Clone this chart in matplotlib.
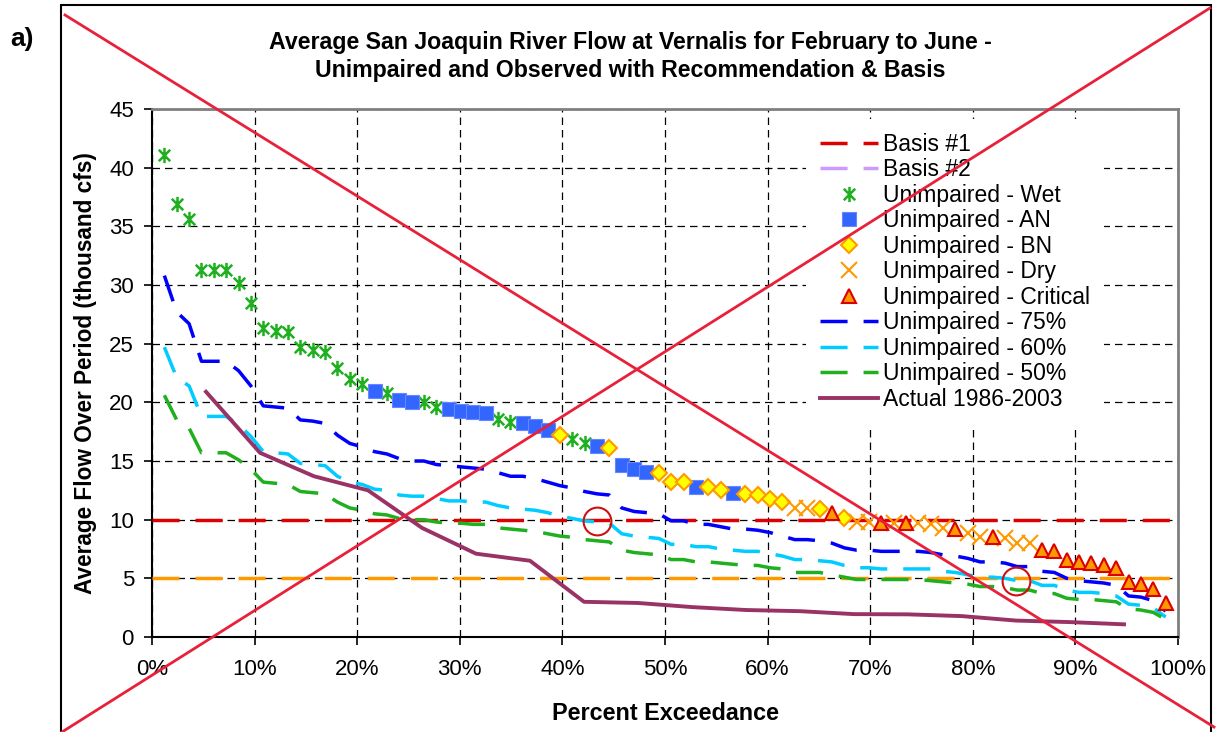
import matplotlib
matplotlib.use("Agg")
import matplotlib.pyplot as plt
import numpy as np
from matplotlib.lines import Line2D
from matplotlib.patches import Rectangle
from matplotlib.path import Path
from matplotlib.ticker import PercentFormatter

plt.rcParams["font.family"] = ["Liberation Sans", "DejaVu Sans"]

# unimpaired Feb-Jun flow (thousand cfs), ranked 1922-2003, and year type
unimpaired_flow = [
    41.1, 36.9, 35.6, 31.3, 31.3, 31.3, 30.2, 28.5, 26.3, 26.1,
    26.0, 24.7, 24.5, 24.3, 22.9, 22.0, 21.6, 21.0, 20.8, 20.2,
    20.0, 20.0, 19.6, 19.4, 19.3, 19.2, 19.1, 18.6, 18.3, 18.2,
    18.0, 17.6, 17.2, 16.9, 16.5, 16.3, 16.1, 14.7, 14.3, 14.1,
    14.0, 13.2, 13.2, 12.8, 12.8, 12.5, 12.3, 12.2, 12.1, 11.8,
    11.5, 11.0, 11.0, 10.9, 10.6, 10.1, 9.8, 9.8, 9.7, 9.7,
    9.7, 9.7, 9.6, 9.3, 9.2, 8.9, 8.5, 8.5, 8.4, 8.0,
    8.0, 7.4, 7.3, 6.6, 6.4, 6.3, 6.1, 5.9, 4.7, 4.5,
    4.1, 2.9,
]
year_type = (
    ["W"] * 17
    + ["AN", "W", "AN", "AN", "W", "W", "AN", "AN", "AN", "AN",
       "W", "W", "AN", "AN", "AN", "BN", "W", "W", "AN", "BN",
       "AN", "AN", "AN", "BN", "BN", "BN", "AN", "BN", "BN", "AN",
       "BN", "BN", "BN", "BN", "D", "D", "BN", "C", "BN", "D",
       "D", "C", "D", "C", "D", "D", "D", "C", "D", "D",
       "C", "D", "D", "D"]
    + ["C"] * 11
)

unimp_75 = [
    30.8, 27.7, 26.7, 23.5, 23.5, 23.5, 22.7, 21.4, 19.7, 19.6,
    19.5, 18.5, 18.4, 18.2, 17.2, 16.5, 16.2, 15.8, 15.6, 15.2,
    15.0, 15.0, 14.7, 14.6, 14.5, 14.4, 14.3, 14.0, 13.7, 13.7,
    13.5, 13.2, 12.9, 12.7, 12.4, 12.2, 12.1, 11.0, 10.7, 10.6,
    10.5, 9.9, 9.9, 9.6, 9.6, 9.4, 9.2, 9.2, 9.1, 8.9,
    8.6, 8.3, 8.3, 8.2, 8.0, 7.6, 7.4, 7.4, 7.3, 7.3,
    7.3, 7.3, 7.2, 7.0, 6.9, 6.7, 6.4, 6.4, 6.3, 6.0,
    6.0, 5.6, 5.5, 5.0, 4.8, 4.7, 4.6, 4.4, 3.5, 3.4,
    3.1, 2.2,
]
unimp_60 = [
    24.7, 22.1, 21.4, 18.8, 18.8, 18.8, 18.1, 17.1, 15.8, 15.7,
    15.6, 14.8, 14.7, 14.6, 13.7, 13.2, 13.0, 12.6, 12.5, 12.1,
    12.0, 12.0, 11.8, 11.6, 11.6, 11.5, 11.5, 11.2, 11.0, 10.9,
    10.8, 10.6, 10.3, 10.1, 9.9, 9.8, 9.7, 8.8, 8.6, 8.5,
    8.4, 7.9, 7.9, 7.7, 7.7, 7.5, 7.4, 7.3, 7.3, 7.1,
    6.9, 6.6, 6.6, 6.5, 6.4, 6.1, 5.9, 5.9, 5.8, 5.8,
    5.8, 5.8, 5.8, 5.6, 5.5, 5.3, 5.1, 5.1, 5.0, 4.8,
    4.8, 4.4, 4.4, 4.0, 3.8, 3.8, 3.7, 3.5, 2.8, 2.7,
    2.5, 1.7,
]
unimp_50 = [
    20.6, 18.5, 17.8, 15.7, 15.7, 15.7, 15.1, 14.3, 13.2, 13.1,
    13.0, 12.4, 12.3, 12.2, 11.5, 11.0, 10.8, 10.5, 10.4, 10.1,
    10.0, 10.0, 9.8, 9.7, 9.7, 9.6, 9.6, 9.3, 9.2, 9.1,
    9.0, 8.8, 8.6, 8.5, 8.3, 8.2, 8.1, 7.4, 7.2, 7.1,
    7.0, 6.6, 6.6, 6.4, 6.4, 6.3, 6.2, 6.1, 6.1, 5.9,
    5.8, 5.5, 5.5, 5.5, 5.3, 5.1, 4.9, 4.9, 4.9, 4.9,
    4.9, 4.9, 4.8, 4.7, 4.6, 4.5, 4.3, 4.3, 4.2, 4.0,
    4.0, 3.7, 3.7, 3.3, 3.2, 3.2, 3.1, 3.0, 2.4, 2.3,
    2.1, 1.5,
]

# observed flow 1986-2003, ranked
actual_flow = [20.9, 15.7, 13.7, 12.5, 9.3, 7.1, 6.5, 3.0, 2.9,
               2.55, 2.3, 2.2, 1.95, 1.93, 1.78, 1.4, 1.27, 1.08]

basis1 = 10
basis2 = 5

# highlighted points (exceedance, flow)
circle_x = [0.434, 0.842]
circle_y = [9.9, 4.8]

n = len(unimpaired_flow)
x_unimp = np.arange(1, n + 1) / (n + 1)
x_actual = np.arange(1, len(actual_flow) + 1) / (len(actual_flow) + 1)
flow = np.array(unimpaired_flow)
ytype = np.array(year_type)

star = Path([(0, -1), (0, 1), (-0.75, -0.75), (0.75, 0.75), (-0.75, 0.75), (0.75, -0.75)],
            [Path.MOVETO, Path.LINETO, Path.MOVETO, Path.LINETO, Path.MOVETO, Path.LINETO])

fig = plt.figure(figsize=(12.2, 7.32), dpi=100)
ax = fig.add_axes([152 / 1220, 1 - 637 / 732, 1026 / 1220, 528 / 732])

dash = (0, (7.8, 4.6))
ax.plot([0, 1], [basis1, basis1], color="#DD0000", lw=2.5, linestyle=dash, dash_capstyle="butt", zorder=3)
ax.plot([0, 1], [basis2, basis2], color="#FF9900", lw=2.5, linestyle=dash, dash_capstyle="butt", zorder=3)

ax.plot(x_unimp, unimp_75, color="#0000FF", lw=2.5, linestyle=dash, zorder=3)
ax.plot(x_unimp, unimp_60, color="#00CCFF", lw=2.5, linestyle=dash, zorder=3)
ax.plot(x_unimp, unimp_50, color="#1FAF1F", lw=2.5, linestyle=dash, zorder=3)
ax.plot(x_actual, actual_flow, color="#993366", lw=2.8, zorder=3)

m = ytype == "W"
ax.plot(x_unimp[m], flow[m], ls="none", marker=star, ms=11, mew=1.8, mec="#1FAF1F", mfc="none", zorder=4)
m = ytype == "AN"
ax.plot(x_unimp[m], flow[m], ls="none", marker="s", ms=10, mew=0.8, mec="#6688FF", mfc="#3366FF", zorder=4)
m = ytype == "BN"
ax.plot(x_unimp[m], flow[m], ls="none", marker="D", ms=8, mew=1.5, mec="#FF9900", mfc="#FFFF00", zorder=4)
m = ytype == "D"
ax.plot(x_unimp[m], flow[m], ls="none", marker="x", ms=11, mew=1.5, mec="#FF9900", zorder=4)
m = ytype == "C"
ax.plot(x_unimp[m], flow[m], ls="none", marker="^", ms=10, mew=1.5, mec="#DD0000", mfc="#FF9900", zorder=4)

ax.plot(circle_x, circle_y, ls="none", marker="o", ms=20, mew=1.5, mec="#D01010", mfc="none", zorder=5)

ax.set_xlim(0, 1)
ax.set_ylim(0, 45)
ax.set_xticks(np.arange(0, 1.01, 0.1))
ax.set_yticks(np.arange(0, 46, 5))
ax.xaxis.set_major_formatter(PercentFormatter(1.0, decimals=0))
ax.tick_params(labelsize=16, length=6, width=1.2, color="black")
ax.tick_params(axis="x", pad=10)
ax.tick_params(axis="y", pad=7)
ax.grid(True, color="black", lw=0.9, linestyle=(0, (6, 4)))
ax.set_axisbelow(True)
for s in ["left", "bottom"]:
    ax.spines[s].set_color("black")
    ax.spines[s].set_linewidth(1.5)
for s in ["top", "right"]:
    ax.spines[s].set_color("#808080")
    ax.spines[s].set_linewidth(2)

ax.set_xlabel("Percent Exceedance", fontsize=16.8, fontweight="bold", labelpad=16)
ax.set_ylabel("Average Flow Over Period (thousand cfs)", fontsize=16.3, fontweight="bold", labelpad=9)

fig.text(630 / 1220, 1 - 43 / 732, "Average San Joaquin River Flow at Vernalis for February to June -",
         ha="center", va="center", fontsize=16.7, fontweight="bold")
fig.text(630 / 1220, 1 - 71 / 732, "Unimpaired and Observed with Recommendation & Basis",
         ha="center", va="center", fontsize=16.7, fontweight="bold")
fig.text(22 / 1220, 1 - 39 / 732, "a)", ha="center", va="center", fontsize=19, fontweight="bold")

handles = [
    Line2D([], [], color="#DD0000", lw=2.5, linestyle=dash),
    Line2D([], [], color="#CC99FF", lw=2.5, linestyle=dash),
    Line2D([], [], ls="none", marker=star, ms=11, mew=1.8, mec="#1FAF1F", mfc="none"),
    Line2D([], [], ls="none", marker="s", ms=10, mew=0.8, mec="#6688FF", mfc="#3366FF"),
    Line2D([], [], ls="none", marker="D", ms=8, mew=1.5, mec="#FF9900", mfc="#FFFF00"),
    Line2D([], [], ls="none", marker="x", ms=11, mew=1.5, mec="#FF9900"),
    Line2D([], [], ls="none", marker="^", ms=10, mew=1.5, mec="#DD0000", mfc="#FF9900"),
    Line2D([], [], color="#0000FF", lw=2.5, linestyle=dash),
    Line2D([], [], color="#00CCFF", lw=2.5, linestyle=dash),
    Line2D([], [], color="#1FAF1F", lw=2.5, linestyle=dash),
    Line2D([], [], color="#993366", lw=2.8),
]
labels = ["Basis #1", "Basis #2", "Unimpaired - Wet", "Unimpaired - AN", "Unimpaired - BN",
          "Unimpaired - Dry", "Unimpaired - Critical", "Unimpaired - 75%", "Unimpaired - 60%",
          "Unimpaired - 50%", "Actual 1986-2003"]
leg = ax.legend(handles, labels, loc="upper left", bbox_to_anchor=(806 / 1220, 1 - 119 / 732),
                bbox_transform=fig.transFigure, fontsize=16.5, frameon=True, framealpha=1,
                facecolor="white", edgecolor="none", fancybox=False, borderpad=0.6,
                handlelength=2.53, handletextpad=0.22, labelspacing=0.11, borderaxespad=0)
leg.set_zorder(6)

# crossing-out lines and page frame
red = "#E8203A"
fig.add_artist(Line2D([65 / 1220, 1214 / 1220], [1 - 15 / 732, 1 - 727 / 732], color=red, lw=2, zorder=10))
fig.add_artist(Line2D([62 / 1220, 1210 / 1220], [0, 1 - 8 / 732], color=red, lw=2, zorder=10))
fig.add_artist(Rectangle((61 / 1220, -0.05), 1150 / 1220, 1.05 - 5 / 732, fill=False,
                         edgecolor="black", lw=1.5, transform=fig.transFigure, zorder=9))

fig.savefig("out.png", dpi=100)
